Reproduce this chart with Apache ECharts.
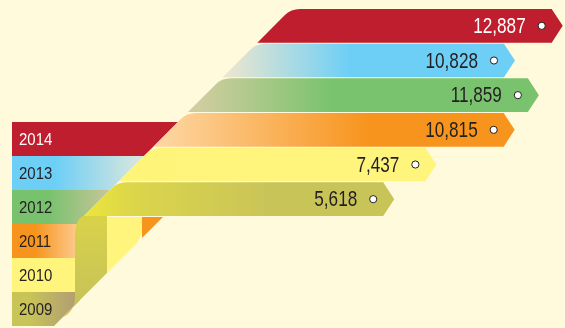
<!DOCTYPE html>
<html><head><meta charset="utf-8">
<script src="https://cdn.jsdelivr.net/npm/echarts@6/dist/echarts.min.js"></script>
<style>html,body{margin:0;padding:0;background:#fffadc}#c{width:565px;height:328px}</style>
</head><body><div id="c"></div>
<script>
// ---- data ----
const years = ['2009', '2010', '2011', '2012', '2013', '2014'];
const values = [5618, 7437, 10815, 11859, 10828, 12887];
const valueLabels = ['5,618', '7,437', '10,815', '11,859', '10,828', '12,887'];

// ---- styles ----
const barMain = ['#c9c458', '#fff57d', '#f7941d', '#7ac36e', '#6dcff6', '#be1e2d'];
const barFade = ['#ebe43a', '#fff47a', '#fdd6a2', '#d0cd9e', '#ebe6cf', '#be1e2d'];
const barFadeX = [[83, 270], [120, 300], [160, 370], [200, 330], [228, 350], [250, 300]];
const legMain = ['#c9c458', '#fff57d', '#f7941d', '#78c26e', '#6dcff6', '#be1e2d'];
const legFade = ['#b3a171', '#fff57d', '#fdcb90', '#c2c596', '#d3e5de', '#be1e2d'];
const legFadeX = [[28, 72], [30, 80], [35, 78], [48, 105], [55, 135], [30, 80]];
const textColor = ['#231f20', '#231f20', '#231f20', '#231f20', '#231f20', '#ffffff'];
const FONT = '"Liberation Sans", Arial, sans-serif';

const DIAG = 300;   // upper fold line  x + y = DIAG
const FOLD = 380;   // lower fold line  x + y = FOLD
const LEFT = 12;

function grad(x1, x2, c1, c2) {
  return new echarts.graphic.LinearGradient(x1, 0, x2, 0, [
    { offset: 0, color: c1 }, { offset: 1, color: c2 }], true);
}

function renderLegend(params, api) {
  const i = api.value(2);
  const top = api.coord([0, i + 1])[1];
  const bot = api.coord([0, i])[1];
  const edge = y => Math.min(Math.max(DIAG - y, 80), FOLD - y);
  const ys = [top];
  [DIAG - 80, FOLD - 80].forEach(b => { if (b > top && b < bot) ys.push(b); });
  ys.push(bot);
  const pts = [[LEFT, top]];
  ys.forEach(y => pts.push([edge(y), y]));
  pts.push([LEFT, bot]);
  return {
    type: 'group',
    children: [
      { type: 'polygon', shape: { points: pts },
        style: { fill: grad(legFadeX[i][0], legFadeX[i][1], legMain[i], legFade[i]) } },
      { type: 'text', x: 19, y: (top + bot) / 2 + 1, scaleX: 0.88,
        style: { text: years[i], fill: textColor[i], font: '17px ' + FONT,
                 textAlign: 'left', textVerticalAlign: 'middle' } }
    ]
  };
}

function renderBar(params, api) {
  const v = api.value(0);
  const row = api.value(1);
  const i = api.value(2);
  const top = api.coord([0, row + 1])[1];
  const bot = api.coord([0, row])[1] - 1;
  const b0 = api.coord([0, 0])[1];
  const xEnd = api.coord([v, row])[0];
  const mid = (top + bot) / 2;
  const tip = xEnd + 11;
  const xlT = DIAG - top, xlB = DIAG - bot;
  const r = 9, d = r / Math.SQRT2;
  const path = 'M' + xlB + ',' + bot + ' L' + (xlT - d) + ',' + (top + d) +
    ' Q' + xlT + ',' + top + ' ' + (xlT + r) + ',' + top +
    ' L' + xEnd + ',' + top + ' L' + tip + ',' + mid + ' L' + xEnd + ',' + bot + ' Z';
  const children = [];
  // fold strips (bottom-left)
  if (i === 2) {
    const xa = 142;
    children.push({ type: 'polygon', shape: { points: [[xa, b0], [FOLD - b0, b0], [xa, FOLD - xa]] },
      style: { fill: '#f7941d' } });
  }
  if (i === 1) {
    const xa = 107, xb = 142;
    children.push({ type: 'path', shape: { pathData:
      'M' + xa + ',' + b0 + ' L' + xb + ',' + b0 + ' L' + xb + ',' + (b0 + 14) +
      ' Q' + xb + ',' + (FOLD - xb - 4) + ' ' + (xb - 5) + ',' + (FOLD - xb + 5) +
      ' L' + xa + ',' + (FOLD - xa) + ' Z' },
      style: { fill: '#fff57d' } });
  }
  children.push({ type: 'path', shape: { pathData: path },
    style: { fill: i === 0
      ? new echarts.graphic.LinearGradient(83, 0, 270, 0, [
          { offset: 0, color: '#eee63a' }, { offset: 0.25, color: '#dcd64a' }, { offset: 1, color: '#c9c458' }], true)
      : grad(barFadeX[i][0], barFadeX[i][1], barFade[i], barMain[i]) } });
  if (i === 0) {
    const xa = 75, xb = 107;
    children.push({ type: 'path', shape: { pathData:
      'M' + xb + ',' + (b0 - 1) + ' L' + xb + ',' + (FOLD - xb) + ' L63,' + (FOLD - 63) +
      ' Q' + xa + ',' + (FOLD - 63 - 6) + ' ' + xa + ',' + (FOLD - 63 - 20) +
      ' L' + xa + ',' + (b0 + 19) + ' Q' + xa + ',' + (b0 + 3) + ' ' + (DIAG - b0) + ',' + (b0 - 1) + ' Z' },
      style: { fill: new echarts.graphic.LinearGradient(0, b0, 0, FOLD - 63, [
        { offset: 0, color: '#d8d24a' }, { offset: 1, color: '#c5c05a' }], true) } });
  }
  children.push({ type: 'text', x: xEnd - 26, y: mid + 1, scaleX: 0.78,
    style: { text: valueLabels[i], fill: textColor[i], font: '22px ' + FONT,
             textAlign: 'right', textVerticalAlign: 'middle' } });
  children.push({ type: 'circle', shape: { cx: xEnd - 10, cy: mid, r: 3.6 },
    style: { fill: '#ffffff', stroke: '#231f20', lineWidth: 1 } });
  return { type: 'group', children };
}

const chart = echarts.init(document.getElementById('c'), null, { renderer: 'canvas' });
chart.setOption({
  backgroundColor: '#fffadc',
  animation: false,
  grid: { left: 253, right: 13, top: 9, bottom: 2 },
  xAxis: { type: 'value', min: 0, max: 12900, show: false },
  yAxis: [
    { type: 'value', min: -3.144, max: 6, show: false },
    { type: 'value', min: 0, max: 9.324, show: false }
  ],
  series: [
    { type: 'custom', yAxisIndex: 1, renderItem: renderLegend, clip: false,
      data: years.map((y, i) => [0, i, i]) },
    { type: 'custom', yAxisIndex: 0, renderItem: renderBar, clip: false,
      data: [5, 4, 3, 2, 1, 0].map(i => [values[i], i, i]) }
  ]
});
</script></body></html>
